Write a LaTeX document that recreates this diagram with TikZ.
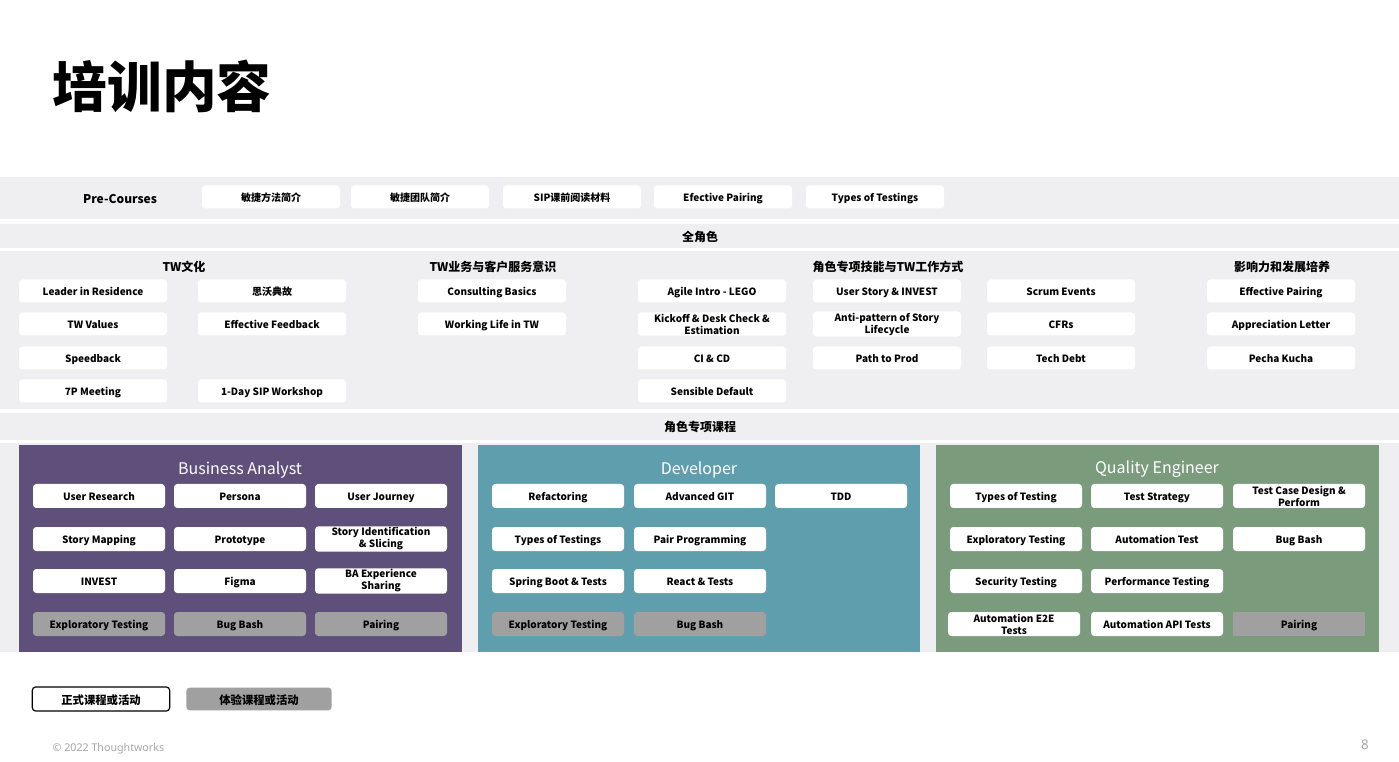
\documentclass[tikz,border=0pt]{standalone}
\usepackage{fontspec}
\setmainfont{Noto Sans CJK SC}
\newfontfamily\footfont{Noto Sans}
\usetikzlibrary{positioning}

\definecolor{bandgray}{HTML}{EFEFF1}
\definecolor{bapurple}{HTML}{5F4F7B}
\definecolor{devteal}{HTML}{5F9FAD}
\definecolor{qegreen}{HTML}{7A9C7D}
\definecolor{trygray}{HTML}{A0A0A0}
\definecolor{footgray}{HTML}{A6A6A6}

\begin{document}
\begin{tikzpicture}[x=0.75pt,y=-0.75pt,
    course/.style={rounded corners=2.5pt, fill=white, align=center, inner sep=1pt,
        minimum width=111pt, minimum height=17.25pt, text height=8.8pt, text depth=1.4pt,
        font=\bfseries\fontsize{7.5}{9}\selectfont},
    twoline/.style={text height={}, text depth={}},
    precourse/.style={course, minimum width=103.5pt},
    rolecourse/.style={course, minimum width=99pt, minimum height=18pt},
    trycourse/.style={rolecourse, fill=trygray},
    heading/.style={font=\bfseries\fontsize{9}{10}\selectfont},
    paneltitle/.style={text=white, font=\fontsize{12}{14}\selectfont}]
    \useasboundingbox (0,0) rectangle (1399,762);
    \fill[white] (0,0) rectangle (1399,762);
    % title
    \node[anchor=west, font=\bfseries\fontsize{41}{44}\selectfont] (title) at (48,86) {培训内容};
    % bands
    \fill[bandgray] (0,177) rectangle (1399,219);
    \fill[bandgray] (0,224) rectangle (1399,248);
    \fill[bandgray] (0,251) rectangle (1399,409);
    \fill[bandgray] (0,413) rectangle (1399,440);
    \fill[bandgray] (0,443) rectangle (1399,652);
    % pre-courses
    \node[heading] (pre) at (120,199) {Pre-Courses};
    \node[precourse] (pc1) at (271,197) {敏捷方法简介};
    \node[precourse] (pc2) at (420,197) {敏捷团队简介};
    \node[precourse] (pc3) at (572,197) {SIP课前阅读材料};
    \node[precourse] (pc4) at (723,197) {Efective Pairing};
    \node[precourse] (pc5) at (875,197) {Types of Testings};
    % all roles
    \node[heading] (all) at (700,237) {全角色};
    \node[heading] (culture) at (184,267) {TW文化};
    \node[heading] (business) at (493,267) {TW业务与客户服务意识};
    \node[heading] (skills) at (888,267) {角色专项技能与TW工作方式};
    \node[heading] (growth) at (1282,267) {影响力和发展培养};

    \node[course] (cul1) at (93,291) {Leader in Residence};
    \node[course] (cul2) at (93,324) {TW Values};
    \node[course] (cul3) at (93,358) {Speedback};
    \node[course] (cul4) at (93,391) {7P Meeting};
    \node[course] (cul5) at (272,291) {思沃典故};
    \node[course] (cul6) at (272,324) {Effective Feedback};
    \node[course] (cul7) at (272,391) {1-Day SIP Workshop};

    \node[course] (biz1) at (492,291) {Consulting Basics};
    \node[course] (biz2) at (492,324) {Working Life in TW};

    \node[course] (sk1) at (712,291) {Agile Intro - LEGO};
    \node[course, twoline] (sk2) at (712,324) {Kickoff \& Desk Check \&\\Estimation};
    \node[course] (sk3) at (712,358) {CI \& CD};
    \node[course] (sk4) at (712,391) {Sensible Default};
    \node[course] (sk5) at (887,291) {User Story \& INVEST};
    \node[course, twoline] (sk6) at (887,324) {Anti-pattern of Story\\Lifecycle};
    \node[course] (sk7) at (887,358) {Path to Prod};
    \node[course] (sk8) at (1061,291) {Scrum Events};
    \node[course] (sk9) at (1061,324) {CFRs};
    \node[course] (sk10) at (1061,358) {Tech Debt};

    \node[course] (gr1) at (1281,291) {Effective Pairing};
    \node[course] (gr2) at (1281,324) {Appreciation Letter};
    \node[course] (gr3) at (1281,358) {Pecha Kucha};
    % role courses
    \node[heading] (role) at (700,427) {角色专项课程};
    \fill[bapurple] (19,445) rectangle (462,652);
    \fill[devteal] (478,445) rectangle (920,652);
    \fill[qegreen] (936,445) rectangle (1379,652);

    \node[paneltitle] (ba) at (240,470) {Business Analyst};
    \node[rolecourse] (ba1) at (99,496) {User Research};
    \node[rolecourse] (ba2) at (240,496) {Persona};
    \node[rolecourse] (ba3) at (381,496) {User Journey};
    \node[rolecourse] (ba4) at (99,539) {Story Mapping};
    \node[rolecourse] (ba5) at (240,539) {Prototype};
    \node[rolecourse, twoline] (ba6) at (381,539) {Story Identification\\\& Slicing};
    \node[rolecourse] (ba7) at (99,581) {INVEST};
    \node[rolecourse] (ba8) at (240,581) {Figma};
    \node[rolecourse, twoline] (ba9) at (381,581) {BA Experience\\Sharing};
    \node[trycourse] (ba10) at (99,624) {Exploratory Testing};
    \node[trycourse] (ba11) at (240,624) {Bug Bash};
    \node[trycourse] (ba12) at (381,624) {Pairing};

    \node[paneltitle] (dev) at (699,470) {Developer};
    \node[rolecourse] (dev1) at (558,496) {Refactoring};
    \node[rolecourse] (dev2) at (700,496) {Advanced GIT};
    \node[rolecourse] (dev3) at (841,496) {TDD};
    \node[rolecourse] (dev4) at (558,539) {Types of Testings};
    \node[rolecourse] (dev5) at (700,539) {Pair Programming};
    \node[rolecourse] (dev6) at (558,581) {Spring Boot \& Tests};
    \node[rolecourse] (dev7) at (700,581) {React \& Tests};
    \node[trycourse] (dev8) at (558,624) {Exploratory Testing};
    \node[trycourse] (dev9) at (700,624) {Bug Bash};

    \node[paneltitle] (qe) at (1157,469) {Quality Engineer};
    \node[rolecourse] (qe1) at (1016,496) {Types of Testing};
    \node[rolecourse] (qe2) at (1157,496) {Test Strategy};
    \node[rolecourse, twoline] (qe3) at (1299,496) {Test Case Design \&\\Perform};
    \node[rolecourse] (qe4) at (1016,539) {Exploratory Testing};
    \node[rolecourse] (qe5) at (1157,539) {Automation Test};
    \node[rolecourse] (qe6) at (1299,539) {Bug Bash};
    \node[rolecourse] (qe7) at (1016,581) {Security Testing};
    \node[rolecourse] (qe8) at (1157,581) {Performance Testing};
    \node[rolecourse, twoline] (qe9) at (1014,624) {Automation E2E\\Tests};
    \node[rolecourse] (qe10) at (1157,624) {Automation API Tests};
    \node[trycourse, sharp corners] (qe11) at (1299,624) {Pairing};
    % legend
    \node[course, draw=black, line width=0.9pt, minimum width=103pt, minimum height=18pt,
        text height=9.6pt, text depth=1.6pt, font=\bfseries\fontsize{8.5}{10}\selectfont] (formal) at (101,699) {正式课程或活动};
    \node[course, fill=trygray, minimum width=109pt, minimum height=17pt,
        text height=9.6pt, text depth=1.6pt, font=\bfseries\fontsize{8.5}{10}\selectfont] (trial) at (259,699) {体验课程或活动};
    % footer
    \node[anchor=west, text=footgray, font=\footfont\fontsize{8}{9}\selectfont] (copy) at (48,749) {© 2022 Thoughtworks};
    \node[text=footgray, font=\footfont\fontsize{10}{11}\selectfont] (page) at (1365,745) {8};
\end{tikzpicture}
\end{document}
